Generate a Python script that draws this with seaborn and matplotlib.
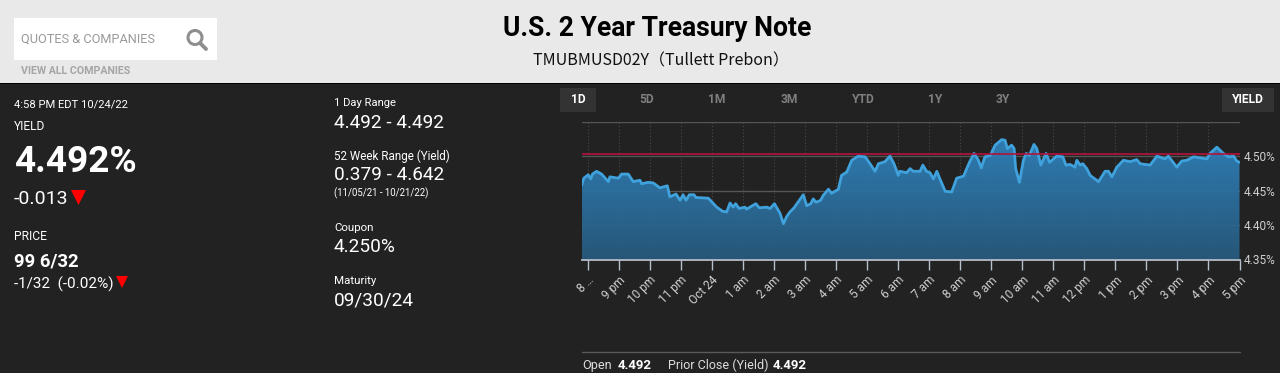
import numpy as np
import pandas as pd
import matplotlib
matplotlib.use("Agg")
import matplotlib.pyplot as plt
from matplotlib.patches import Rectangle, Polygon, Circle
from matplotlib.ticker import FuncFormatter
import seaborn as sns

# hours after 8 pm on Oct 23
hours = [-0.19,-0.12,0.02,0.10,0.16,0.29,0.45,0.67,0.72,0.99,1.10,1.31,1.47,1.69,1.74,1.95,2.12,2.33,2.57,2.65,
 2.85,2.98,3.08,3.17,3.28,3.43,3.49,3.89,4.16,4.35,4.48,4.59,4.69,4.77,4.88,5.07,5.12,5.42,5.53,5.77,
 5.88,6.02,6.20,6.31,6.41,6.52,6.65,6.95,7.06,7.19,7.27,7.36,7.51,7.59,7.76,7.86,8.08,8.18,8.35,8.51,
 8.72,8.94,9.10,9.26,9.37,9.58,9.74,9.87,10.01,10.06,10.28,10.39,10.49,10.71,10.80,10.92,11.03,11.14,11.25,11.35,
 11.52,11.73,11.89,12.11,12.30,12.45,12.59,12.68,12.80,12.97,13.13,13.34,13.45,13.52,13.66,13.74,13.79,13.91,14.04,14.13,
 14.23,14.38,14.47,14.60,14.77,14.88,15.11,15.31,15.41,15.54,15.70,15.76,15.87,15.95,16.08,16.19,16.46,16.67,16.78,16.89,
 17.05,17.26,17.48,17.69,17.80,18.12,18.34,18.60,18.71,18.98,19.14,19.30,19.52,19.95,20.05,20.27,20.48,20.65,20.81,20.91,21.00]
yields = [4.458,4.468,4.473,4.467,4.474,4.478,4.474,4.463,4.470,4.468,4.474,4.474,4.463,4.465,4.460,4.462,4.461,4.454,4.457,4.441,
 4.445,4.436,4.444,4.436,4.444,4.444,4.440,4.439,4.426,4.420,4.419,4.432,4.426,4.431,4.424,4.426,4.423,4.431,4.425,4.426,
 4.424,4.431,4.417,4.402,4.412,4.419,4.425,4.444,4.428,4.431,4.438,4.433,4.436,4.443,4.452,4.446,4.452,4.472,4.477,4.494,
 4.500,4.499,4.489,4.478,4.489,4.492,4.500,4.489,4.472,4.478,4.476,4.482,4.478,4.478,4.487,4.478,4.476,4.467,4.478,4.467,
 4.449,4.448,4.468,4.471,4.491,4.504,4.494,4.483,4.499,4.501,4.516,4.524,4.523,4.511,4.516,4.511,4.482,4.462,4.494,4.504,
 4.501,4.517,4.511,4.487,4.504,4.491,4.500,4.499,4.487,4.488,4.484,4.494,4.487,4.489,4.482,4.472,4.463,4.478,4.478,4.470,
 4.484,4.494,4.492,4.495,4.489,4.487,4.500,4.496,4.500,4.484,4.493,4.494,4.499,4.496,4.504,4.513,4.504,4.499,4.500,4.493,4.491]
prior_close = 4.503
x_tick_hours = list(range(22))
x_tick_labels = ["8 …","9 pm","10 pm","11 pm","Oct 24","1 am","2 am","3 am","4 am","5 am","6 am","7 am","8 am",
                 "9 am","10 am","11 am","12 pm","1 pm","2 pm","3 pm","4 pm","5 pm"]
y_ticks = [4.35,4.40,4.45,4.50]
range_tabs = ["1D","5D","1M","3M","YTD","1Y","3Y"]

sns.set_theme(style="dark")
plt.rcParams["font.family"] = ["Roboto", "DejaVu Sans"]

W, H = 1280, 373
BG = "#222222"
fig = plt.figure(figsize=(W/100, H/100), dpi=100, facecolor=BG)

# page layer in pixel coordinates
pg = fig.add_axes([0, 0, 1, 1], facecolor=BG)
pg.set_xlim(0, W); pg.set_ylim(H, 0); pg.axis("off")
pg.add_patch(Rectangle((0, 0), W, 83, fc="#e9e9e9", ec="none"))
pg.add_patch(Rectangle((0, 83), W, 1.2, fc="#000000", ec="none"))
pg.add_patch(Rectangle((14, 18), 203, 42, fc="#ffffff", ec="none"))
pg.add_patch(Circle((195, 37.5), 7, fc="none", ec="#8f8f8f", lw=2.2))
pg.plot([200, 206], [43, 49], color="#8f8f8f", lw=2.8, solid_capstyle="round")

def t(x, y, s, size, color="#ffffff", weight="normal", ha="left", **kw):
    return pg.text(x, y, s, fontsize=size*0.72, color=color, fontweight=weight, ha=ha, va="center", **kw)

t(21, 39, "QUOTES & COMPANIES", 12.7, "#9a9a9a")
t(21, 71, "VIEW ALL COMPANIES", 10.6, "#a5a5a5", "bold")
t(657, 29, "U.S. 2 Year Treasury Note", 26.5, "#000000", "bold", ha="center")
t(661, 61, "TMUBMUSD02Y（Tullett Prebon）", 16, "#111111", ha="center",
  family=["Noto Sans CJK SC", "DejaVu Sans"])

t(14, 104, "4:58 PM EDT 10/24/22", 11.3)
t(14, 127, "YIELD", 12)
t(14, 161.5, "4.492%", 37, weight="bold")
t(14, 199, "-0.013", 19.5)
pg.add_patch(Polygon([[71, 190], [86, 190], [78.5, 205]], fc="#ff0000", ec="none"))
t(14, 237, "PRICE", 12)
t(14, 262, "99 6/32", 18.5, weight="bold")
t(14, 284, "-1/32  (-0.02%)", 15.2)
pg.add_patch(Polygon([[116, 276], [128, 276], [122, 288]], fc="#ff0000", ec="none"))

t(334, 103, "1 Day Range", 11.2)
t(334, 122.5, "4.492 - 4.492", 19)
t(334, 156, "52 Week Range (Yield)", 11.6)
t(334, 175.5, "0.379 - 4.642", 19)
t(334, 193.5, "(11/05/21 - 10/21/22)", 9.6)
t(334, 228, "Coupon", 11.5)
t(334, 247.5, "4.250%", 19)
t(334, 281, "Maturity", 11.5)
t(334, 300.5, "09/30/24", 19)

# range tabs
pg.add_patch(Rectangle((560, 88), 36, 24, fc="#333333", ec="none"))
pg.add_patch(Rectangle((1222, 88), 52, 24, fc="#333333", ec="none"))
for x, s in zip([578, 647, 717, 789, 863, 935, 1003], range_tabs):
    t(x, 99.5, s, 12, "#ffffff" if s == "1D" else "#808080", "bold", ha="center")
t(1248, 99.5, "YIELD", 12, "#ffffff", "bold", ha="center")

pg.plot([581.5, 1239.5], [351.5, 351.5], color="#5a5a5a", lw=1)
t(582, 365.5, "Open", 12.6, "#dddddd")
t(618, 365.5, "4.492", 13.3, "#ffffff", "bold")
t(668, 365.5, "Prior Close (Yield)", 12.5, "#dddddd")
t(773, 365.5, "4.492", 13.3, "#ffffff", "bold")

# chart
L, R, T, B = 581.5, 1239.5, 121.7, 259.5
ax = fig.add_axes([L/W, (H-B)/H, (R-L)/W, (B-T)/H], facecolor="none")
df = pd.DataFrame({"hours": hours, "yield": yields})
xlim = (-0.195, 21.0); ylim = (4.35, 4.55)

for v in y_ticks[1:] + [4.55]:
    ax.axhline(v, color="#555555", lw=1, zorder=1)
for h in x_tick_hours:
    ax.axvline(h, color="#5a5a5a", lw=0.8, ls=(0, (1, 2)), alpha=0.7, zorder=1)

grad = np.linspace(0, 1, 256).reshape(-1, 1)
cmap = matplotlib.colors.LinearSegmentedColormap.from_list("f", ["#2f84bf", "#285b7f"])
im = ax.imshow(grad, cmap=cmap, aspect="auto", extent=[xlim[0], xlim[1], 4.35, 4.525], zorder=2, alpha=0.93)
poly = Polygon(list(zip(hours, yields)) + [(hours[-1], 4.35), (hours[0], 4.35)],
               transform=ax.transData, fc="none", ec="none")
ax.add_patch(poly)
im.set_clip_path(poly)

sns.lineplot(data=df, x="hours", y="yield", ax=ax, color="#3fa2dc", lw=2.0, zorder=4, legend=False)
ax.axhline(prior_close, color="#b5123c", lw=1.2, zorder=5)

ax.set_xlim(*xlim); ax.set_ylim(*ylim)
ax.set_xlabel(""); ax.set_ylabel("")
ax.grid(False)
for s in ["top", "left", "right"]:
    ax.spines[s].set_visible(False)
ax.spines["bottom"].set_color("#b5c0cc"); ax.spines["bottom"].set_linewidth(1.3)

ax.set_xticks(x_tick_hours)
ax.set_xticklabels(x_tick_labels, rotation=45, ha="right", rotation_mode="anchor", fontsize=8.6, color="#cfcfcf")
ax.tick_params(axis="x", length=7.2, width=1, color="#b5c0cc", pad=3, bottom=True)
ax.yaxis.tick_right()
ax.set_yticks(y_ticks)
ax.yaxis.set_major_formatter(FuncFormatter(lambda v, p: f"{v:.2f}%"))
ax.tick_params(axis="y", length=0, pad=3, labelsize=8.6, labelcolor="#cfcfcf", right=False)

fig.savefig("out.png", dpi=100, facecolor=BG)
